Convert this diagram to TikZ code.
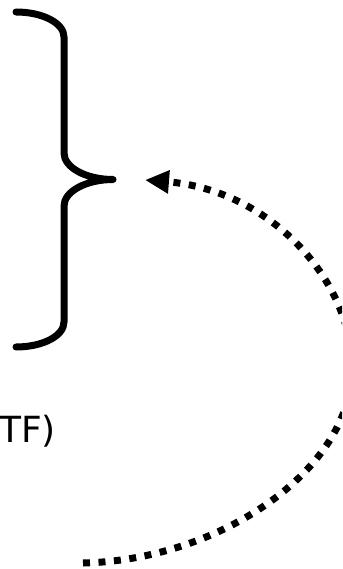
\documentclass[tikz,border=0pt]{standalone}
\usepackage{fontspec}
\setmainfont{DejaVu Sans}
\usetikzlibrary{arrows.meta}
\tikzset{
  bracestroke/.style={line width=7pt, line cap=round, line join=round},
  loopstroke/.style={line width=7pt, line cap=butt, dash pattern=on 7pt off 8.5pt,
    -{Triangle[length=24pt,width=22pt]}},
  labeltext/.style={inner sep=0pt, anchor=base west, font=\fontsize{36}{40}\selectfont}
}
\begin{document}
\begin{tikzpicture}[x=1pt,y=-1pt]
  \clip (0,0) rectangle (342,569);
  \fill[white] (0,0) rectangle (342,569);

  % right curly brace
  \coordinate (bracetop) at (16,12);
  \coordinate (bracetip) at (113,179.5);
  \coordinate (bracebot) at (16,347);
  \draw[bracestroke] (bracetop)
      .. controls (42.5,12) and (64,23) .. (64,37)
      -- (64,153)
      .. controls (64,167.5) and (86,179.5) .. (bracetip)
      .. controls (86,179.5) and (64,191.5) .. (64,206)
      -- (64,322)
      .. controls (64,336) and (42.5,347) .. (bracebot);

  % partly visible label
  \node[labeltext] (label) at (-1,442) {TF)};

  % dotted return loop
  \coordinate (loopstart) at (83,563);
  \coordinate (loopright) at (352,368);
  \coordinate (looptip) at (145,180);
  \draw[loopstroke] (loopstart)
      .. controls (220,560) and (352,470) .. (loopright)
      .. controls (352,280) and (270,190) .. (looptip);
\end{tikzpicture}
\end{document}
